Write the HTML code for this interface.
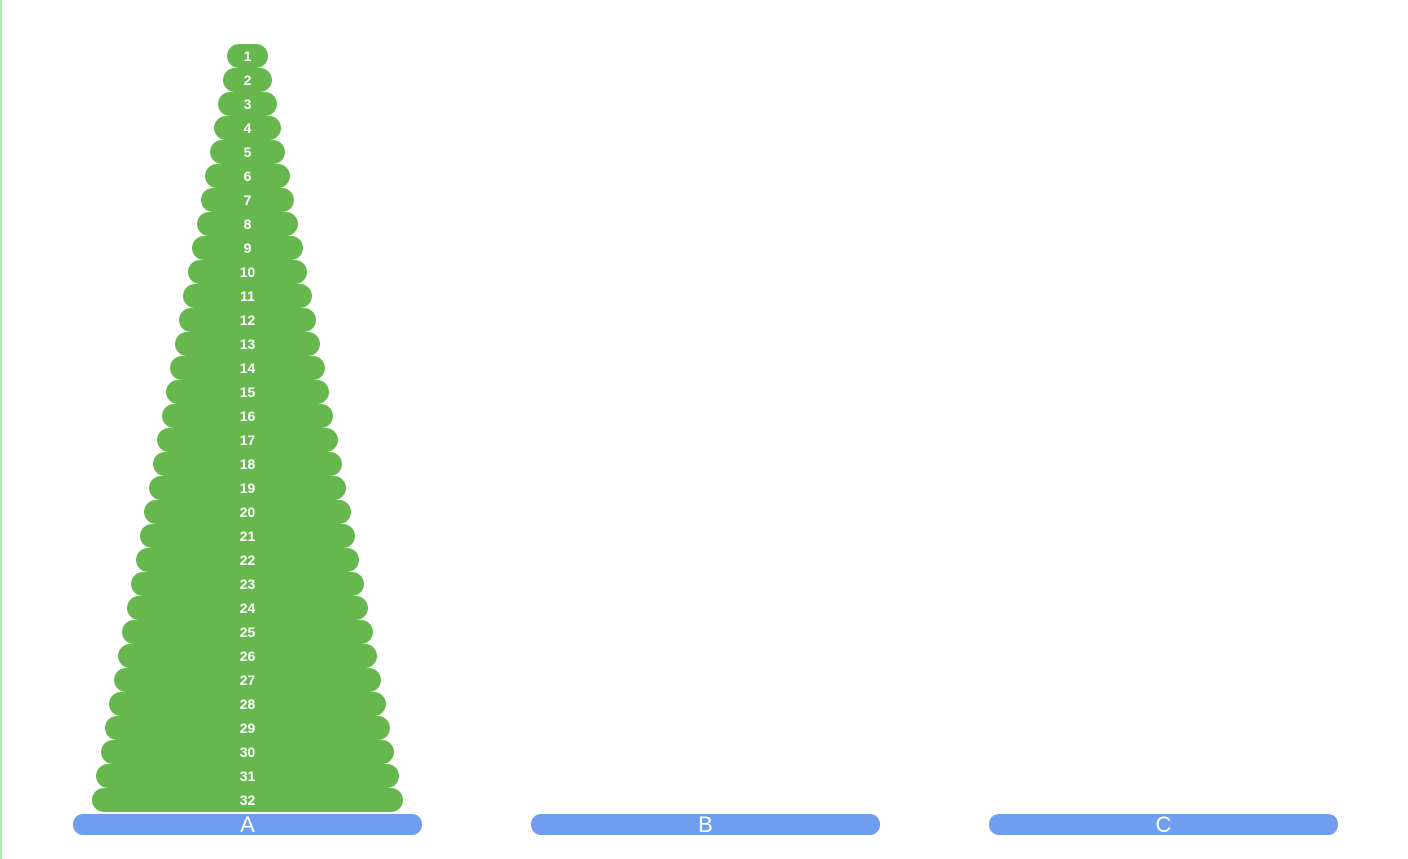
<!DOCTYPE html>
<html><head><meta charset="utf-8"><style>
html,body{margin:0;padding:0;background:#fff;width:1408px;height:859px;overflow:hidden;font-family:"Liberation Sans",Arial,sans-serif}
#border{position:absolute;left:0;top:0;width:2px;height:859px;background:#a6f0b4}
.peg{position:absolute;top:814px;height:21px;width:349px;border-radius:10px;background:#6f9df0;color:#fff;font-size:22px;line-height:21px;text-align:center}
.disk{position:absolute;height:24px;border-radius:12px;background:#66b84e;color:#fff;font-weight:bold;font-size:14px;line-height:25px;text-align:center}
</style></head><body>
<div id="border"></div>
<div id="stage"></div>
<script>
const pegNames = ["A","B","C"];
const pegCenters = [247.5, 705.5, 1163.5];
const diskPeg = [];
const diskIds = [];
for (let i = 1; i <= 32; i++) { diskIds.push(i); diskPeg.push(0); }
const stage = document.getElementById('stage');
pegNames.forEach((n, i) => {
  const p = document.createElement('div');
  p.className = 'peg';
  
  
  p.style.left = (pegCenters[i] - 174.5) + 'px';
  p.textContent = n;
  stage.appendChild(p);
});
const counts = [0,0,0];
for (let j = diskIds.length - 1; j >= 0; j--) {
  const k = diskIds[j], peg = diskPeg[j];
  const w = 41 + (k - 1) * (270 / 31);
  const top = 788 - counts[peg] * 24;
  counts[peg]++;
  const d = document.createElement('div');
  d.className = 'disk';
  
  
  d.style.left = (pegCenters[peg] - w / 2) + 'px';
  d.style.width = w + 'px';
  d.style.top = top + 'px';
  d.textContent = k;
  stage.appendChild(d);
}
</script>
</body></html>
